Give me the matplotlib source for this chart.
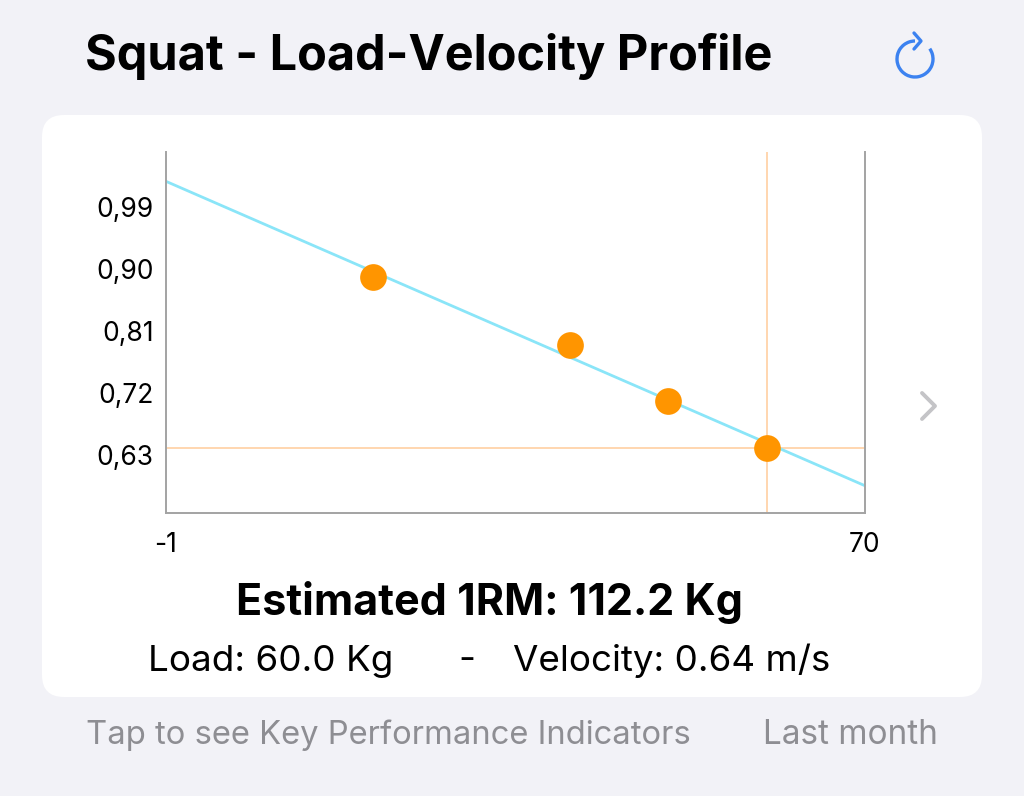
import numpy as np
import matplotlib.pyplot as plt
from matplotlib.patches import FancyBboxPatch, Arc

plt.rcParams['font.family'] = ['Inter', 'DejaVu Sans']

# data
loads = [20, 40, 50, 60]                 # Kg
velocities = [0.888, 0.790, 0.708, 0.640]  # m/s
y_ticks = [0.63, 0.72, 0.81, 0.90, 0.99]
y_tick_labels = ['0,63', '0,72', '0,81', '0,90', '0,99']
x_ticks = [-1, 70]
x_tick_labels = ['-1', '70']
sel_load = 60.0
sel_velocity = 0.64
one_rm = 112.2

W, H = 1024, 796
fig = plt.figure(figsize=(W / 100, H / 100), dpi=100)
fig.patch.set_facecolor('#F2F2F7')

# overlay axes in pixel units (y measured from bottom)
bg = fig.add_axes([0, 0, 1, 1])
bg.set_xlim(0, W)
bg.set_ylim(0, H)
bg.axis('off')

card = FancyBboxPatch((42, H - 697), 940, 582, boxstyle='round,pad=0,rounding_size=22',
                      facecolor='white', edgecolor='none')
bg.add_patch(card)

bg.text(85, H - 57, 'Squat - Load-Velocity Profile', fontsize=35, fontweight='bold',
        ha='left', va='center', color='black')

# refresh icon
blue = '#3C82F0'
cx, cy, r = 915, H - 59, 18
bg.add_patch(Arc((cx, cy), 2 * r, 2 * r, theta1=90, theta2=395, lw=2.4, color=blue))
bg.plot([cx - 1, cx + 6, cx - 1], [cy + r + 8, cy + r, cy + r - 8], color=blue, lw=2.4,
        solid_capstyle='round', solid_joinstyle='round')

# chevron
bg.plot([922, 935, 922], [H - 393, H - 406, H - 419], color='#C4C4C7', lw=2.8,
        solid_capstyle='round', solid_joinstyle='round')

bg.text(489, H - 603, 'Estimated 1RM: {:.1f} Kg'.format(one_rm), fontsize=31,
        fontweight='bold', ha='center', va='center', color='black')
bg.text(148, H - 661, 'Load: {:.1f} Kg'.format(sel_load), fontsize=26.5,
        ha='left', va='center', color='black')
bg.text(467, H - 661, '-', fontsize=26.5, ha='center', va='center', color='black')
bg.text(830, H - 661, 'Velocity: {:.2f} m/s'.format(sel_velocity), fontsize=26.5,
        ha='right', va='center', color='black')
bg.text(86, H - 735, 'Tap to see Key Performance Indicators', fontsize=23.6,
        ha='left', va='center', color='#8E8E93')
bg.text(938, H - 735, 'Last month', fontsize=24, ha='right', va='center', color='#8E8E93')

# chart
ax = fig.add_axes([166 / W, 1 - 513 / H, (865 - 166) / W, (513 - 152) / H])
ax.set_facecolor('none')
ax.set_xlim(-1, 70)
ax.set_ylim(0.5458, 1.0698)

slope, intercept = np.polyfit(loads, velocities, 1)
xs = np.array([-1, 70])
ax.plot(xs, slope * xs + intercept, color='#8AE5F8', lw=2.0, zorder=2)

ax.axvline(sel_load, color='#FFCB9A', lw=1.1, zorder=1)
ax.axhline(sel_velocity, color='#FFCB9A', lw=1.1, zorder=1)
ax.scatter(loads, velocities, s=370, color='#FF9500', zorder=3, linewidths=0)

ax.set_yticks(y_ticks)
ax.set_yticklabels(y_tick_labels)
ax.set_xticks(x_ticks)
ax.set_xticklabels(x_tick_labels)
ax.tick_params(axis='both', length=0, labelsize=19, colors='black')
ax.tick_params(axis='y', pad=9)
ax.tick_params(axis='x', pad=14)

for side in ['left', 'right', 'bottom']:
    ax.spines[side].set_color('#A3A3A3')
    ax.spines[side].set_linewidth(1.4)
ax.spines['top'].set_visible(False)

plt.savefig('out.png', dpi=100, facecolor=fig.get_facecolor())
